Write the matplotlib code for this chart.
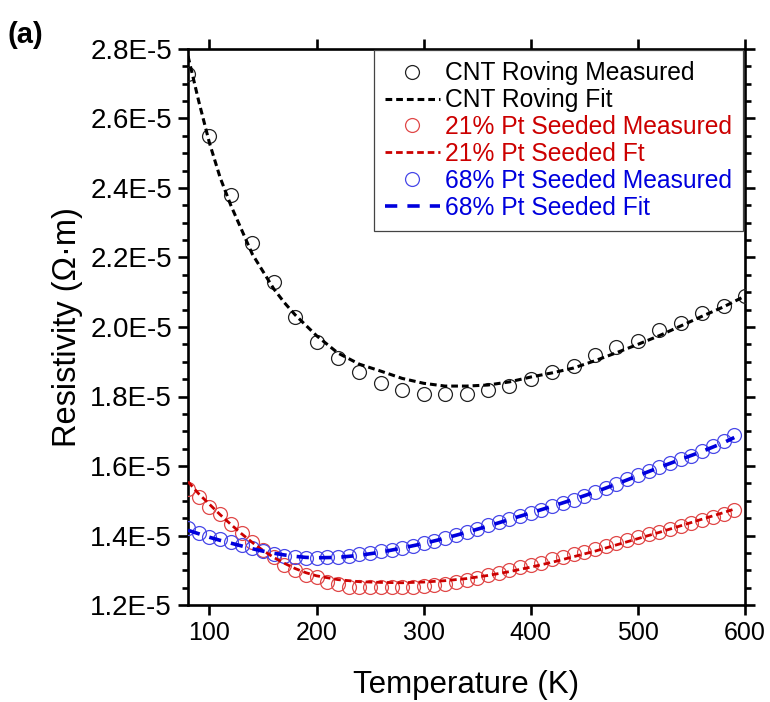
import numpy as np
import matplotlib
matplotlib.use("Agg")
import matplotlib.pyplot as plt
from matplotlib.ticker import FixedLocator, AutoMinorLocator, FuncFormatter

plt.rcParams['font.family'] = ['Liberation Sans', 'DejaVu Sans']

# CNT roving: measured every 20 K, resistivity in units of 1e-5 Ohm*m
t_cnt = [80, 100, 120, 140, 160, 180, 200, 220, 240, 260, 280, 300, 320, 340,
         360, 380, 400, 420, 440, 460, 480, 500, 520, 540, 560, 580, 600]
rho_cnt = [2.728, 2.550, 2.380, 2.241, 2.130, 2.030, 1.958, 1.910, 1.871, 1.840,
           1.819, 1.807, 1.807, 1.807, 1.819, 1.830, 1.850, 1.871, 1.889, 1.919,
           1.942, 1.961, 1.991, 2.011, 2.039, 2.060, 2.089]

t_cnt_fit = [80, 90, 100, 110, 120, 130, 140, 150, 160, 170, 180, 190, 200, 220,
             240, 260, 280, 300, 320, 340, 360, 380, 400, 420, 440, 460, 480, 500,
             520, 540, 560, 580, 600]
rho_cnt_fit = [2.78, 2.65, 2.53, 2.43, 2.35, 2.28, 2.21, 2.16, 2.11, 2.07, 2.035,
               2.005, 1.975, 1.925, 1.893, 1.873, 1.852, 1.838, 1.830, 1.830,
               1.833, 1.842, 1.856, 1.868, 1.882, 1.903, 1.926, 1.950, 1.975,
               2.003, 2.031, 2.058, 2.089]

# Pt seeded samples: measured every 10 K
t_pt = list(range(80, 600, 10))
rho_pt21 = [1.533, 1.510, 1.483, 1.461, 1.432, 1.406, 1.382, 1.358, 1.337, 1.315,
            1.301, 1.286, 1.280, 1.267, 1.260, 1.253, 1.253, 1.251, 1.251, 1.251,
            1.252, 1.252, 1.254, 1.258, 1.261, 1.265, 1.272, 1.279, 1.286, 1.292,
            1.300, 1.308, 1.316, 1.322, 1.331, 1.339, 1.346, 1.353, 1.362, 1.370,
            1.379, 1.388, 1.396, 1.403, 1.411, 1.420, 1.428, 1.437, 1.445, 1.453,
            1.462, 1.473]
rho_pt68 = [1.421, 1.406, 1.397, 1.389, 1.382, 1.373, 1.363, 1.356, 1.347, 1.341,
            1.337, 1.334, 1.334, 1.337, 1.339, 1.341, 1.347, 1.351, 1.354, 1.359,
            1.365, 1.371, 1.378, 1.385, 1.393, 1.402, 1.411, 1.420, 1.429, 1.438,
            1.447, 1.456, 1.465, 1.474, 1.484, 1.493, 1.503, 1.513, 1.525, 1.537,
            1.549, 1.562, 1.575, 1.586, 1.597, 1.608, 1.619, 1.630, 1.643, 1.657,
            1.672, 1.690]

t_pt_fit = [80, 90, 100, 110, 120, 130, 140, 150, 160, 170, 180, 190, 200, 220,
            240, 260, 280, 300, 320, 340, 360, 380, 400, 420, 440, 460, 480, 500,
            520, 540, 560, 580, 590]
rho_pt21_fit = [1.555, 1.520, 1.490, 1.460, 1.432, 1.405, 1.380, 1.357, 1.337,
                1.320, 1.305, 1.293, 1.284, 1.273, 1.267, 1.265, 1.264, 1.266,
                1.270, 1.276, 1.285, 1.296, 1.309, 1.323, 1.339, 1.355, 1.373,
                1.391, 1.409, 1.428, 1.447, 1.466, 1.476]
rho_pt68_fit = [1.415, 1.405, 1.395, 1.386, 1.378, 1.370, 1.362, 1.355, 1.349,
                1.344, 1.340, 1.337, 1.336, 1.337, 1.343, 1.352, 1.364, 1.377,
                1.392, 1.409, 1.427, 1.446, 1.465, 1.484, 1.504, 1.525, 1.548,
                1.572, 1.596, 1.619, 1.642, 1.667, 1.682]

x_ticks = [100, 200, 300, 400, 500, 600]
y_ticks = [1.2, 1.4, 1.6, 1.8, 2.0, 2.2, 2.4, 2.6, 2.8]
labels = ["CNT Roving Measured", "CNT Roving Fit",
          "21% Pt Seeded Measured", "21% Pt Seeded Ft",
          "68% Pt Seeded Measured", "68% Pt Seeded Fit"]

SCALE = 1e-5
BLACK = "#000000"
RED = "#cc0000"
BLUE = "#0000dd"

fig = plt.figure(figsize=(7.70, 7.02), dpi=100)
ax = fig.add_axes([188 / 770, 1 - 605 / 702, 557 / 770, 556 / 702])

ms = 10
mew = 0.9
ax.plot(t_cnt, np.array(rho_cnt) * SCALE, 'o', ms=ms, mfc='none', mec='#222222',
        mew=mew, label=labels[0], zorder=3)
ax.plot(t_cnt_fit, np.array(rho_cnt_fit) * SCALE, color=BLACK, lw=2.2,
        dashes=(2.2, 1.3), label=labels[1], zorder=4)
ax.plot(t_pt, np.array(rho_pt21) * SCALE, 'o', ms=ms, mfc='none', mec='#e04848',
        mew=mew, label=labels[2], zorder=3)
ax.plot(t_pt_fit, np.array(rho_pt21_fit) * SCALE, color=RED, lw=2.0,
        dashes=(2.4, 1.4), label=labels[3], zorder=4)
ax.plot(t_pt, np.array(rho_pt68) * SCALE, 'o', ms=ms, mfc='none', mec='#4848e8',
        mew=mew, label=labels[4], zorder=3)
ax.plot(t_pt_fit, np.array(rho_pt68_fit) * SCALE, color=BLUE, lw=2.6,
        dashes=(3.4, 2.8), label=labels[5], zorder=4)

ax.set_xlim(80, 600)
ax.set_ylim(1.2 * SCALE, 2.8 * SCALE)
ax.xaxis.set_major_locator(FixedLocator(x_ticks))
ax.yaxis.set_major_locator(FixedLocator(np.array(y_ticks) * SCALE))
ax.yaxis.set_minor_locator(AutoMinorLocator(4))
ax.yaxis.set_major_formatter(FuncFormatter(lambda v, p: f"{v / SCALE:.1f}E-5"))

for s in ax.spines.values():
    s.set_linewidth(1.9)
ax.tick_params(which='both', direction='out', top=True, right=True,
               labeltop=False, labelright=False, width=1.9, pad=4)
ax.tick_params(axis='x', labelsize=18)
ax.tick_params(axis='y', labelsize=20)
ax.tick_params(which='major', length=7.5)
ax.tick_params(which='minor', length=4)

ax.set_xlabel("Temperature (K)", fontsize=22.5, labelpad=18)
ax.set_ylabel("Resistivity (\u03a9\u00b7m)", fontsize=23.5, labelpad=5)

leg = ax.legend(loc='upper right', bbox_to_anchor=(0.9964, 0.998),
                borderaxespad=0, fontsize=17.7, frameon=True, fancybox=False,
                framealpha=1, edgecolor='#444444', handlelength=2.25,
                handletextpad=0.2, labelspacing=0.12, borderpad=0.45)
leg.get_frame().set_linewidth(0.9)
for txt, col in zip(leg.get_texts(), [BLACK, BLACK, RED, RED, BLUE, BLUE]):
    txt.set_color(col)

fig.text(0.010, 0.970, "(a)", fontsize=21, fontweight='bold', va='top', ha='left')

fig.savefig("out.png", dpi=100)
